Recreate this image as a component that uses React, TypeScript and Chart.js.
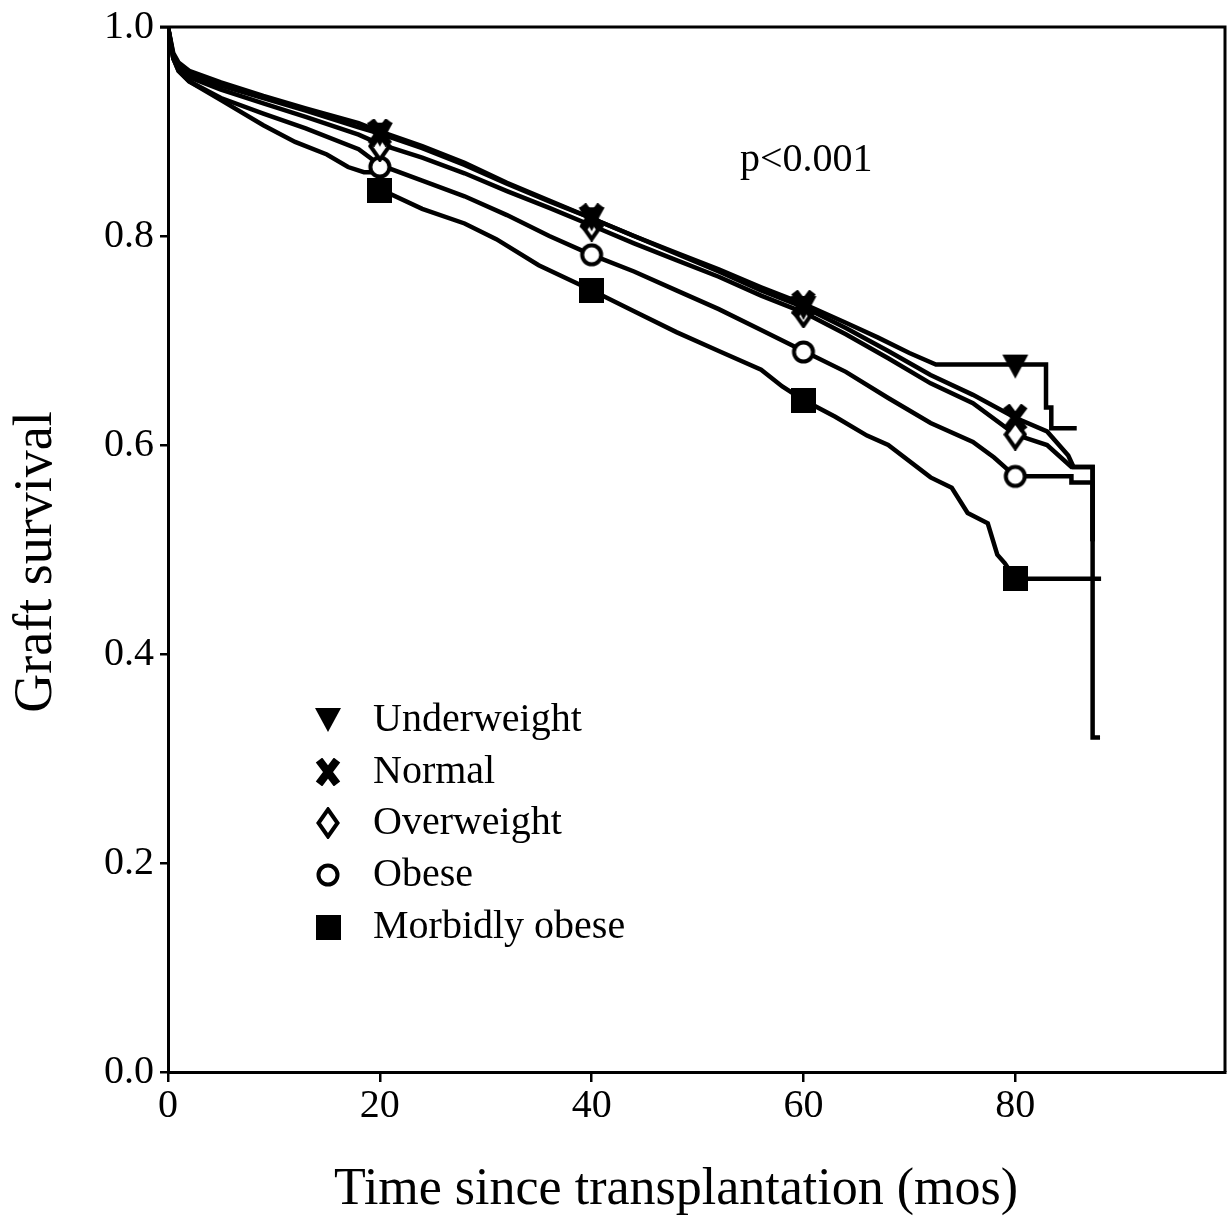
import React, { useEffect, useRef } from "react";
import { Chart, registerables } from "chart.js";

Chart.register(...registerables);

// ---------- data ----------
const SERIES_NAMES = ["Underweight", "Normal", "Overweight", "Obese", "Morbidly obese"];

const underweightT = [0, 0.5, 1, 2, 5, 9, 13, 18, 20, 24, 28, 32, 36, 40, 44, 48, 52, 56, 60, 64, 67, 70, 72.5, 82.9, 82.9, 83.4, 83.4, 85.8];
const underweightS = [1.0, 0.975, 0.966, 0.958, 0.947, 0.934, 0.922, 0.908, 0.9, 0.886, 0.87, 0.851, 0.834, 0.817, 0.8, 0.784, 0.768, 0.751, 0.735, 0.717, 0.703, 0.688, 0.677, 0.677, 0.636, 0.636, 0.616, 0.616];

const normalT = [0, 0.5, 1, 2, 5, 9, 13, 18, 20, 24, 28, 32, 36, 40, 44, 48, 52, 56, 60, 64, 68, 72, 76, 80, 83, 85, 85.5, 87.3, 87.3, 88.0];
const normalS = [1.0, 0.973, 0.963, 0.955, 0.944, 0.932, 0.92, 0.904, 0.898, 0.884, 0.868, 0.85, 0.833, 0.817, 0.8, 0.783, 0.766, 0.748, 0.732, 0.712, 0.69, 0.667, 0.648, 0.626, 0.613, 0.59, 0.579, 0.579, 0.32, 0.32];

const overweightT = [0, 0.5, 1, 2, 5, 9, 13, 18, 20, 24, 28, 32, 36, 40, 44, 48, 52, 56, 60, 64, 68, 72, 76, 80, 83, 85.3, 87.3, 87.3];
const overweightS = [1.0, 0.97, 0.96, 0.952, 0.94, 0.927, 0.914, 0.897, 0.888, 0.875, 0.86, 0.843, 0.827, 0.81, 0.793, 0.777, 0.761, 0.743, 0.727, 0.706, 0.683, 0.659, 0.64, 0.61, 0.6, 0.579, 0.579, 0.508];

const obeseT = [0, 0.5, 1, 2, 5, 9, 13, 18, 20, 24, 28, 32, 36, 40, 44, 48, 52, 56, 60, 64, 68, 72, 76, 78, 80, 85.3, 85.3, 87.3, 87.3];
const obeseS = [1.0, 0.97, 0.958, 0.948, 0.932, 0.917, 0.903, 0.883, 0.868, 0.853, 0.838, 0.82, 0.8, 0.782, 0.766, 0.748, 0.73, 0.71, 0.69, 0.67, 0.645, 0.621, 0.603, 0.588, 0.57, 0.57, 0.564, 0.564, 0.508];

const morbidT = [0, 0.5, 1, 2, 5, 9, 12, 15, 17, 18.5, 20, 20, 24, 28, 31, 35, 40, 44, 48, 52, 56, 58, 60, 63, 66, 68, 72, 74, 75.5, 77.4, 78.3, 79, 80, 88.1];
const morbidS = [1.0, 0.97, 0.958, 0.948, 0.93, 0.906, 0.89, 0.878, 0.866, 0.861, 0.861, 0.845, 0.826, 0.812, 0.797, 0.772, 0.748, 0.728, 0.708, 0.69, 0.672, 0.656, 0.643, 0.627, 0.609, 0.6, 0.569, 0.559, 0.535, 0.525, 0.495, 0.487, 0.472, 0.472];

const markerT = [20, 40, 60, 80];
const underweightMarks = [0.897, 0.816, 0.731, 0.675];
const normalMarks = [0.899, 0.818, 0.735, 0.626];
const overweightMarks = [0.886, 0.81, 0.727, 0.61];
const obeseMarks = [0.866, 0.782, 0.689, 0.57];
const morbidMarks = [0.844, 0.748, 0.643, 0.472];

const X_TICKS = [0, 20, 40, 60, 80];
const Y_TICKS = [0, 0.2, 0.4, 0.6, 0.8, 1.0];
const X_TITLE = "Time since transplantation (mos)";
const Y_TITLE = "Graft survival";
const P_TEXT = "p<0.001";

const FONT = '"Liberation Serif", "Times New Roman", serif';

// ---------- marker images ----------
function makeCanvas(w: number, h: number, draw: (c: CanvasRenderingContext2D) => void) {
  const cv = document.createElement("canvas");
  cv.width = w;
  cv.height = h;
  const c = cv.getContext("2d")!;
  draw(c);
  return cv;
}

function makeMarkers() {
  const tri = makeCanvas(28, 26, (c) => {
    c.fillStyle = "#000";
    c.beginPath();
    c.moveTo(1, 1);
    c.lineTo(27, 1);
    c.lineTo(14, 25);
    c.closePath();
    c.fill();
  });
  const xMark = makeCanvas(26, 28, (c) => {
    c.strokeStyle = "#000";
    c.lineWidth = 8;
    c.lineCap = "butt";
    c.beginPath();
    c.moveTo(4, 2);
    c.lineTo(22, 26);
    c.moveTo(22, 2);
    c.lineTo(4, 26);
    c.stroke();
  });
  const diamond = makeCanvas(24, 32, (c) => {
    c.fillStyle = "#fff";
    c.strokeStyle = "#000";
    c.lineWidth = 4;
    c.beginPath();
    c.moveTo(12, 2.5);
    c.lineTo(21.5, 16);
    c.lineTo(12, 29.5);
    c.lineTo(2.5, 16);
    c.closePath();
    c.fill();
    c.stroke();
  });
  const circ = makeCanvas(26, 26, (c) => {
    c.fillStyle = "#fff";
    c.strokeStyle = "#000";
    c.lineWidth = 4;
    c.beginPath();
    c.arc(13, 13, 9.5, 0, Math.PI * 2);
    c.fill();
    c.stroke();
  });
  const sq = makeCanvas(25, 25, (c) => {
    c.fillStyle = "#000";
    c.fillRect(0, 0, 25, 25);
  });
  return [tri, xMark, diamond, circ, sq];
}

function pts(t: number[], s: number[]) {
  return t.map((x, i) => ({ x, y: s[i] }));
}

export default function App() {
  const ref = useRef<HTMLCanvasElement | null>(null);

  useEffect(() => {
    if (!ref.current) return;
    const markers = makeMarkers();
    const lines = [
      pts(underweightT, underweightS),
      pts(normalT, normalS),
      pts(overweightT, overweightS),
      pts(obeseT, obeseS),
      pts(morbidT, morbidS),
    ];
    const marks = [underweightMarks, normalMarks, overweightMarks, obeseMarks, morbidMarks].map((m) => pts(markerT, m));

    const lineSets = lines.map((d, i) => ({
      label: SERIES_NAMES[i],
      data: d,
      borderColor: "#000",
      borderWidth: 4.5,
      pointRadius: 0,
      fill: false,
      tension: 0,
      order: 10,
    }));
    const markSets = marks.map((d, i) => ({
      label: SERIES_NAMES[i] + " marker",
      data: d,
      showLine: false,
      pointStyle: markers[i] as any,
      pointRadius: 12,
      borderColor: "#000",
      backgroundColor: "#000",
      clip: false as any,
      order: 1,
    }));

    const overlay = {
      id: "overlay",
      afterDraw(chart: any) {
        const ctx = chart.ctx as CanvasRenderingContext2D;
        const a = chart.chartArea;
        ctx.save();
        ctx.strokeStyle = "#000";
        ctx.lineWidth = 3;
        ctx.beginPath();
        ctx.moveTo(a.left - 8, a.top);
        ctx.lineTo(a.right, a.top);
        ctx.lineTo(a.right, a.bottom);
        ctx.stroke();

        ctx.fillStyle = "#000";
        ctx.textBaseline = "middle";
        ctx.textAlign = "left";
        ctx.font = "40px " + FONT;
        ctx.fillText(P_TEXT, 740, 160);

        const rows = [720, 772, 823, 875, 927];
        SERIES_NAMES.forEach((name, i) => {
          const m = markers[i];
          ctx.drawImage(m, 328 - m.width / 2, rows[i] - m.height / 2);
          ctx.fillText(name, 373, rows[i]);
        });

        ctx.font = "52px " + FONT;
        ctx.textAlign = "center";
        ctx.fillText(X_TITLE, 676, 1190);

        ctx.font = "54px " + FONT;
        ctx.translate(37, 562);
        ctx.rotate(-Math.PI / 2);
        ctx.fillText(Y_TITLE, 0, 0);
        ctx.restore();
      },
    };

    const chart = new Chart(ref.current, {
      type: "line",
      data: { datasets: [...lineSets, ...markSets] as any },
      options: {
        animation: false,
        responsive: false,
        devicePixelRatio: 1,
        layout: { autoPadding: false, padding: { top: 27, right: 2, left: 0, bottom: 0 } },
        plugins: { legend: { display: false }, tooltip: { enabled: false } },
        scales: {
          x: {
            type: "linear",
            min: 0,
            max: 99.8,
            afterBuildTicks: (s: any) => {
              s.ticks = X_TICKS.map((v) => ({ value: v }));
            },
            afterFit: (s: any) => {
              s.height = 151;
              s.paddingLeft = 0;
              s.paddingRight = 0;
              s.paddingTop = 0;
              s.paddingBottom = 0;
            },
            grid: { display: true, drawOnChartArea: false, drawTicks: true, tickLength: 10, color: "#000", lineWidth: 2.5 },
            border: { display: true, color: "#000", width: 3 },
            ticks: { color: "#000", font: { family: FONT, size: 40 }, padding: 0, maxRotation: 0, autoSkip: false },
          },
          y: {
            type: "linear",
            min: 0,
            max: 1,
            afterBuildTicks: (s: any) => {
              s.ticks = Y_TICKS.map((v) => ({ value: v }));
            },
            afterFit: (s: any) => {
              s.width = 168;
              s.paddingLeft = 0;
              s.paddingRight = 0;
              s.paddingTop = 0;
              s.paddingBottom = 0;
            },
            grid: { display: true, drawOnChartArea: false, drawTicks: true, tickLength: 8, color: "#000", lineWidth: 2.5 },
            border: { display: true, color: "#000", width: 3 },
            ticks: {
              color: "#000",
              font: { family: FONT, size: 40 },
              padding: 6,
              autoSkip: false,
              callback: (v: any) => Number(v).toFixed(1),
            },
          },
        },
      },
      plugins: [overlay],
    });
    return () => chart.destroy();
  }, []);

  return (
    <div style={{ position: "fixed", left: 0, top: 0, width: 1227, height: 1223, background: "#fff" }}>
      <canvas ref={ref} width={1227} height={1223} style={{ display: "block", width: 1227, height: 1223 }} />
    </div>
  );
}
